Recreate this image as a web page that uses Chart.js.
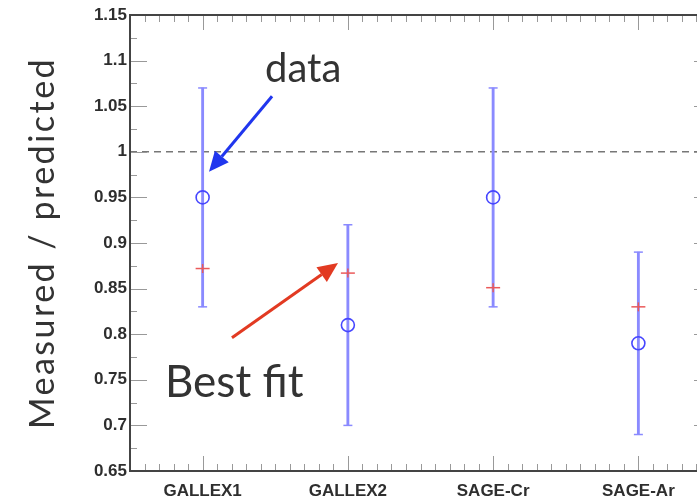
<!DOCTYPE html>
<html>
<head>
<meta charset="utf-8">
<script src="https://cdn.jsdelivr.net/npm/chart.js@4.4.1/dist/chart.umd.min.js"></script>
<style>
  html, body { margin: 0; padding: 0; background: #fff; }
  #wrap { width: 697px; height: 503px; overflow: hidden; position: relative; }
  canvas { display: block; }
</style>
</head>
<body>
<div id="wrap"><canvas id="chart" width="720" height="503"></canvas></div>
<script>
// experiments and their x positions
const categories = ['GALLEX1', 'GALLEX2', 'SAGE-Cr', 'SAGE-Ar'];
const xPos = [1, 2, 3, 4];

// measured / predicted ratio with error bars
const measured = [0.95, 0.81, 0.95, 0.79];
const errLow = [0.83, 0.70, 0.83, 0.69];
const errHigh = [1.07, 0.92, 1.07, 0.89];

// best fit values
const bestFit = [0.872, 0.867, 0.851, 0.830];

// reference line
const refValue = 1;

// y axis ticks
const yTicks = [0.65, 0.7, 0.75, 0.8, 0.85, 0.9, 0.95, 1, 1.05, 1.1, 1.15];
const yTickLabels = ['0.65', '0.7', '0.75', '0.8', '0.85', '0.9', '0.95', '1', '1.05', '1.1', '1.15'];

const yTitle = 'Measured / predicted';

const xMin = 0.5, xMax = 4.5;
const yMin = 0.65, yMax = 1.15;

// text + arrow callouts (data coordinates)
const callouts = [
  { text: 'data', tx: 1.43, ty: 1.0765, size: 40, color: '#2036ee', from: [1.478, 1.061], to: [1.044, 0.978] },
  { text: 'Best fit', tx: 0.741, ty: 0.731, size: 44, color: '#e23a22', from: [1.202, 0.796], to: [1.932, 0.878] }
];

const barColor = 'rgb(138,138,255)';
const dotColor = 'rgb(70,70,255)';
const fitColor = 'rgb(235,90,90)';

// box + inward minor/major ticks on all four sides, callouts, axis title
const frameTicks = {
  id: 'frameTicks',
  afterDraw(chart) {
    const ctx = chart.ctx;
    const a = chart.chartArea;
    const xs = chart.scales.x, ys = chart.scales.y;
    ctx.save();
    ctx.strokeStyle = '#999';
    ctx.lineWidth = 1;
    ctx.beginPath();
    for (let k = 0; k <= Math.round((xMax - xMin) * 10); k++) {
      const v = xMin + k * 0.1;
      const major = Math.abs(v - Math.round(v)) < 1e-6;
      const len = major ? 15 : 7;
      const px = Math.round(xs.getPixelForValue(v)) + 0.5;
      ctx.moveTo(px, a.bottom); ctx.lineTo(px, a.bottom - len);
      ctx.moveTo(px, a.top); ctx.lineTo(px, a.top + len);
    }
    for (let k = 0; k <= Math.round((yMax - yMin) / 0.025); k++) {
      const v = yMin + k * 0.025;
      const major = k % 2 === 0;
      const len = major ? 17 : 7;
      const py = Math.round(ys.getPixelForValue(v)) + 0.5;
      ctx.moveTo(a.left, py); ctx.lineTo(a.left + len, py);
      ctx.moveTo(a.right, py); ctx.lineTo(a.right - len, py);
    }
    ctx.stroke();
    ctx.strokeStyle = '#444';
    ctx.lineWidth = 2;
    ctx.strokeRect(a.left, a.top, a.right - a.left, a.bottom - a.top);

    // callouts
    callouts.forEach(c => {
      const x1 = xs.getPixelForValue(c.from[0]), y1 = ys.getPixelForValue(c.from[1]);
      const x2 = xs.getPixelForValue(c.to[0]), y2 = ys.getPixelForValue(c.to[1]);
      const ang = Math.atan2(y2 - y1, x2 - x1);
      const hl = 20, hw = 9;
      const bx = x2 - hl * Math.cos(ang), by = y2 - hl * Math.sin(ang);
      ctx.strokeStyle = c.color;
      ctx.fillStyle = c.color;
      ctx.lineWidth = 3;
      ctx.beginPath();
      ctx.moveTo(x1, y1); ctx.lineTo(bx, by);
      ctx.stroke();
      ctx.beginPath();
      ctx.moveTo(x2, y2);
      ctx.lineTo(bx + hw * Math.sin(ang), by - hw * Math.cos(ang));
      ctx.lineTo(bx - hw * Math.sin(ang), by + hw * Math.cos(ang));
      ctx.closePath();
      ctx.fill();

      ctx.fillStyle = '#333';
      ctx.font = c.size + 'px Lato';
      ctx.textBaseline = 'alphabetic';
      ctx.textAlign = 'left';
      ctx.fillText(c.text, xs.getPixelForValue(c.tx), ys.getPixelForValue(c.ty));
    });

    // y axis title, a bit letter-spaced like the original
    ctx.translate(54, (a.top + a.bottom) / 2);
    ctx.rotate(-Math.PI / 2);
    ctx.fillStyle = '#333';
    ctx.font = '34px Lato';
    ctx.letterSpacing = '2.5px';
    ctx.textAlign = 'center';
    ctx.textBaseline = 'alphabetic';
    ctx.fillText(yTitle, 0, 0);
    ctx.restore();
  }
};

const pts = (ys) => xPos.map((x, i) => ({ x: x, y: ys[i] }));

new Chart(document.getElementById('chart'), {
  type: 'scatter',
  data: {
    datasets: [
      {
        label: 'data',
        data: pts(measured),
        pointStyle: 'circle',
        pointRadius: 6.5,
        pointBorderWidth: 1.6,
        pointBorderColor: dotColor,
        pointBackgroundColor: 'rgba(0,0,0,0)'
      },
      {
        label: 'fit h',
        data: pts(bestFit),
        pointStyle: 'line',
        pointRadius: 7,
        pointBorderWidth: 1.5,
        pointBorderColor: fitColor
      },
      {
        label: 'fit v',
        data: pts(bestFit),
        pointStyle: 'line',
        pointRotation: 90,
        pointRadius: 4.5,
        pointBorderWidth: 1.5,
        pointBorderColor: fitColor
      },
      {
        label: 'caps',
        data: pts(errLow).concat(pts(errHigh)),
        pointStyle: 'line',
        pointRadius: 4.5,
        pointBorderWidth: 1.5,
        pointBorderColor: barColor
      },
      {
        type: 'bar',
        label: 'err',
        data: xPos.map((x, i) => ({ x: x, y: [errLow[i], errHigh[i]] })),
        backgroundColor: barColor,
        barThickness: 2.2
      },
      {
        type: 'line',
        label: 'ref',
        data: [{ x: xMin, y: refValue }, { x: xMax, y: refValue }],
        borderColor: '#777',
        borderWidth: 1.6,
        borderDash: [7, 5],
        pointRadius: 0
      }
    ]
  },
  options: {
    responsive: false,
    animation: false,
    devicePixelRatio: 1,
    layout: { padding: { left: 0, right: 9, top: 15, bottom: 0 } },
    plugins: { legend: { display: false }, tooltip: { enabled: false } },
    scales: {
      x: {
        type: 'linear',
        min: xMin,
        max: xMax,
        offset: false,
        grid: { display: false, drawTicks: false },
        border: { display: false },
        afterBuildTicks: s => { s.ticks = xPos.map(v => ({ value: v })); },
        afterFit: s => { s.height = 32; },
        ticks: {
          autoSkip: false,
          maxRotation: 0,
          padding: 10,
          color: '#2e2e2e',
          font: { family: 'Liberation Sans', size: 17, weight: 'bold' },
          callback: (v, i) => categories[i]
        }
      },
      y: {
        min: yMin,
        max: yMax,
        grid: { display: false, drawTicks: false },
        border: { display: false },
        afterBuildTicks: s => { s.ticks = yTicks.map(v => ({ value: v })); },
        afterFit: s => { s.width = 130; },
        ticks: {
          padding: 3,
          color: '#2e2e2e',
          font: { family: 'Liberation Sans', size: 17, weight: 'bold' },
          callback: (v, i) => yTickLabels[i]
        }
      }
    }
  },
  plugins: [frameTicks]
});
</script>
</body>
</html>
